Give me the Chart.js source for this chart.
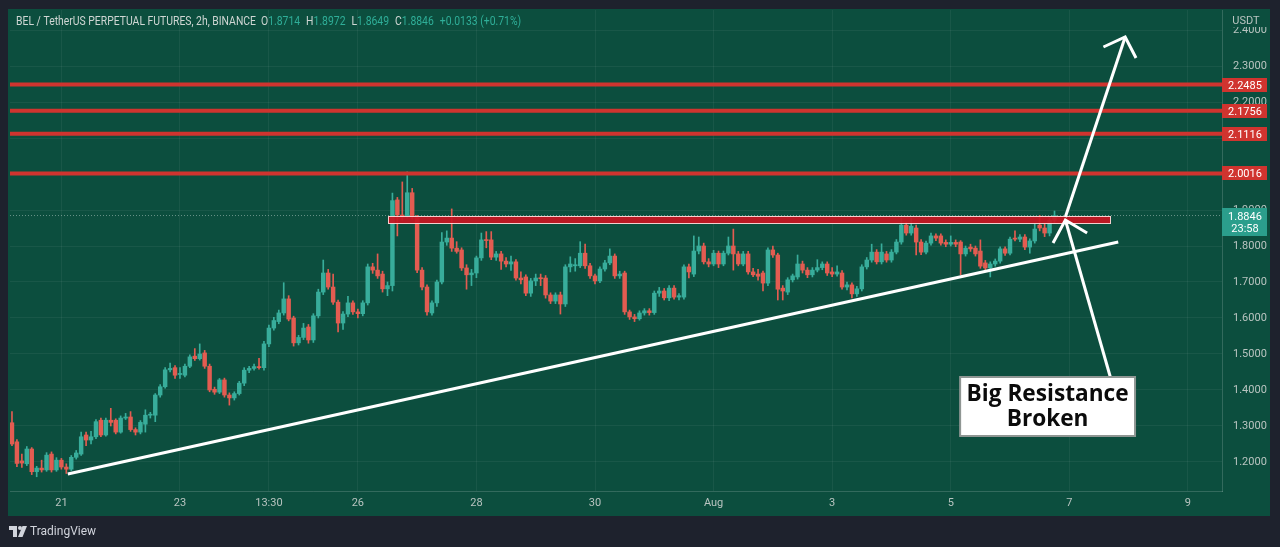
<!DOCTYPE html>
<html>
<head>
<meta charset="utf-8">
<script src="https://cdn.jsdelivr.net/npm/chart.js@4.4.1/dist/chart.umd.min.js"></script>
<style>
html, body { margin: 0; padding: 0; background: #1e222d; overflow: hidden; }
canvas { display: block; }
</style>
</head>
<body>
<canvas id="chart" width="1280" height="547"></canvas>
<script>
// BEL/USDT perpetual, 2h candles, from Jul 20 04:00 to Aug 6
const opens = [
  1.309,1.256,1.203,1.195,1.236,1.173,1.183,1.178,1.222,1.178,
  1.205,1.186,1.180,1.213,1.222,1.275,1.261,1.270,1.316,1.275,
  1.316,1.316,1.283,1.322,1.325,1.290,1.283,1.305,1.330,1.330,
  1.386,1.409,1.456,1.462,1.443,1.441,1.466,1.494,1.487,1.503,
  1.466,1.402,1.394,1.428,1.386,1.378,1.390,1.419,1.455,1.460,
  1.465,1.462,1.528,1.572,1.590,1.614,1.653,1.600,1.531,1.546,
  1.575,1.539,1.606,1.672,1.725,1.686,1.644,1.586,1.611,1.642,
  1.617,1.612,1.642,1.742,1.733,1.722,1.681,1.690,1.928,1.886,
  1.883,1.948,1.878,1.733,1.686,1.614,1.642,1.700,1.811,1.822,
  1.794,1.789,1.739,1.720,1.725,1.767,1.817,1.817,1.769,1.778,
  1.758,1.750,1.756,1.711,1.714,1.669,1.703,1.711,1.711,1.664,
  1.647,1.664,1.639,1.742,1.745,1.745,1.780,1.745,1.717,1.703,
  1.736,1.753,1.772,1.717,1.725,1.617,1.603,1.598,1.614,1.620,
  1.615,1.669,1.675,1.656,1.683,1.658,1.658,1.742,1.722,1.786,
  1.800,1.756,1.750,1.780,1.750,1.780,1.800,1.778,1.750,1.778,
  1.728,1.722,1.725,1.697,1.789,1.775,1.683,1.672,1.706,1.714,
  1.750,1.733,1.720,1.733,1.740,1.750,1.728,1.722,1.725,1.686,
  1.692,1.667,1.681,1.742,1.761,1.783,1.756,1.778,1.761,1.783,
  1.811,1.858,1.836,1.850,1.811,1.783,1.808,1.828,1.828,1.810,
  1.805,1.810,1.811,1.778,1.797,1.794,1.786,1.753,1.739,1.750,
  1.758,1.792,1.780,1.822,1.819,1.825,1.797,1.814,1.858,1.850,
  1.836,1.8714
];
const highs = [
  1.340,1.262,1.222,1.243,1.240,1.188,1.205,1.226,1.228,1.212,
  1.210,1.195,1.218,1.232,1.283,1.283,1.285,1.318,1.322,1.322,
  1.349,1.320,1.328,1.335,1.340,1.295,1.315,1.345,1.338,1.390,
  1.415,1.462,1.475,1.468,1.462,1.472,1.498,1.515,1.528,1.510,
  1.472,1.408,1.432,1.433,1.392,1.395,1.424,1.462,1.466,1.472,
  1.488,1.535,1.580,1.602,1.622,1.698,1.662,1.605,1.552,1.585,
  1.582,1.612,1.680,1.761,1.735,1.722,1.650,1.618,1.660,1.648,
  1.625,1.648,1.750,1.752,1.778,1.730,1.700,1.947,1.935,1.978,
  2.006,1.960,1.885,1.740,1.692,1.648,1.705,1.837,1.842,1.903,
  1.812,1.795,1.748,1.735,1.772,1.836,1.840,1.840,1.785,1.785,
  1.768,1.772,1.762,1.728,1.720,1.710,1.722,1.722,1.718,1.670,
  1.670,1.672,1.748,1.770,1.765,1.812,1.805,1.752,1.722,1.742,
  1.760,1.792,1.778,1.730,1.730,1.622,1.610,1.620,1.626,1.626,
  1.675,1.685,1.682,1.690,1.690,1.668,1.748,1.750,1.828,1.825,
  1.808,1.765,1.788,1.786,1.786,1.825,1.847,1.785,1.785,1.785,
  1.738,1.735,1.730,1.795,1.800,1.780,1.690,1.712,1.722,1.775,
  1.758,1.740,1.740,1.762,1.756,1.756,1.740,1.745,1.732,1.700,
  1.698,1.688,1.748,1.768,1.805,1.790,1.806,1.785,1.790,1.818,
  1.878,1.866,1.878,1.858,1.818,1.814,1.836,1.834,1.834,1.817,
  1.828,1.817,1.815,1.800,1.805,1.800,1.817,1.760,1.756,1.764,
  1.798,1.798,1.825,1.842,1.832,1.832,1.820,1.862,1.885,1.862,
  1.878,1.8972
];
const lows = [
  1.245,1.187,1.185,1.190,1.165,1.159,1.172,1.174,1.172,1.174,
  1.180,1.168,1.176,1.208,1.218,1.245,1.250,1.265,1.270,1.272,
  1.300,1.278,1.280,1.318,1.285,1.275,1.278,1.283,1.322,1.312,
  1.380,1.405,1.450,1.432,1.432,1.436,1.462,1.482,1.483,1.460,
  1.395,1.388,1.390,1.380,1.358,1.372,1.386,1.412,1.448,1.455,
  1.458,1.455,1.520,1.566,1.584,1.608,1.592,1.522,1.525,1.540,
  1.530,1.532,1.600,1.665,1.680,1.638,1.561,1.568,1.604,1.610,
  1.600,1.606,1.636,1.724,1.710,1.672,1.662,1.675,1.828,1.872,
  1.878,1.875,1.726,1.678,1.608,1.608,1.632,1.695,1.802,1.785,
  1.780,1.732,1.680,1.690,1.712,1.760,1.795,1.762,1.760,1.735,
  1.742,1.732,1.705,1.695,1.662,1.660,1.690,1.690,1.655,1.640,
  1.640,1.611,1.632,1.728,1.730,1.740,1.738,1.710,1.695,1.698,
  1.730,1.748,1.710,1.710,1.610,1.596,1.590,1.594,1.608,1.608,
  1.610,1.660,1.650,1.648,1.652,1.650,1.652,1.711,1.715,1.778,
  1.750,1.742,1.745,1.740,1.745,1.775,1.733,1.745,1.745,1.722,
  1.715,1.705,1.675,1.690,1.768,1.650,1.650,1.665,1.700,1.708,
  1.725,1.712,1.714,1.728,1.734,1.718,1.715,1.716,1.680,1.678,
  1.656,1.660,1.675,1.736,1.755,1.750,1.750,1.755,1.755,1.778,
  1.805,1.830,1.830,1.775,1.776,1.778,1.802,1.815,1.802,1.798,
  1.800,1.798,1.720,1.772,1.785,1.772,1.738,1.732,1.714,1.744,
  1.752,1.774,1.775,1.814,1.812,1.790,1.780,1.808,1.842,1.826,
  1.828,1.8649
];
const closes = [
  1.250,1.196,1.197,1.236,1.173,1.183,1.178,1.219,1.178,1.205,
  1.186,1.180,1.213,1.225,1.270,1.261,1.270,1.312,1.275,1.316,
  1.310,1.283,1.322,1.325,1.290,1.283,1.310,1.330,1.332,1.386,
  1.409,1.456,1.460,1.441,1.446,1.466,1.492,1.487,1.500,1.466,
  1.400,1.394,1.428,1.386,1.378,1.390,1.419,1.455,1.460,1.465,
  1.462,1.528,1.572,1.593,1.614,1.653,1.597,1.531,1.546,1.572,
  1.539,1.606,1.672,1.725,1.686,1.644,1.586,1.611,1.642,1.617,
  1.612,1.642,1.742,1.733,1.717,1.681,1.690,1.926,1.886,1.880,
  1.948,1.883,1.733,1.686,1.617,1.642,1.700,1.811,1.822,1.794,
  1.785,1.739,1.720,1.725,1.767,1.817,1.815,1.769,1.778,1.758,
  1.750,1.756,1.711,1.706,1.669,1.703,1.711,1.709,1.664,1.647,
  1.664,1.639,1.742,1.750,1.748,1.780,1.745,1.717,1.703,1.736,
  1.753,1.772,1.717,1.722,1.617,1.603,1.598,1.614,1.620,1.615,
  1.669,1.675,1.656,1.683,1.658,1.662,1.742,1.728,1.786,1.800,
  1.756,1.750,1.780,1.750,1.780,1.800,1.778,1.750,1.778,1.728,
  1.720,1.716,1.697,1.789,1.775,1.680,1.675,1.706,1.717,1.750,
  1.733,1.720,1.733,1.740,1.750,1.725,1.722,1.728,1.686,1.692,
  1.667,1.681,1.742,1.761,1.783,1.756,1.783,1.761,1.783,1.811,
  1.858,1.836,1.855,1.811,1.783,1.808,1.828,1.822,1.808,1.805,
  1.810,1.805,1.778,1.794,1.792,1.778,1.744,1.739,1.750,1.758,
  1.792,1.780,1.819,1.819,1.825,1.797,1.814,1.847,1.850,1.836,
  1.8714,1.8846
];

// x axis: bar index, one day = 12 bars, "21" = Jul 21 00:00
const xTickPos = [10, 34, 52, 70, 94, 118, 142, 166, 190, 214, 238];
const xTickLabels = ['21', '23', '13:30', '26', '28', '30', 'Aug', '3', '5', '7', '9'];
const yTicks = [1.2, 1.3, 1.4, 1.5, 1.6, 1.7, 1.8, 1.9, 2.0, 2.1, 2.2, 2.3, 2.4];

// horizontal resistance levels and the broken zone
const levels = [2.2485, 2.1756, 2.1116, 2.0016];
const resistZone = [1.8639, 1.8833];
const countdown = '23:58';
const changeText = '+0.0133 (+0.71%)';

// drawings, in (bar index, price)
const trendLine = [{x: 11.3, y: 1.1667}, {x: 223.9, y: 1.811}];
const arrowUp = [{x: 213.2, y: 1.8806}, {x: 225.3, y: 2.3806}];
const arrowUpHead = [{x: 220.9, y: 2.3528}, {x: 225.3, y: 2.3806}, {x: 227.5, y: 2.3222}];
const arrowNote = [{x: 222.3, y: 1.4361}, {x: 213.2, y: 1.8722}];
const arrowNoteHead = [{x: 210.7, y: 1.8083}, {x: 213.2, y: 1.8722}, {x: 217.6, y: 1.8361}];
const zoneBars = [76.1, 222.3];
const noteBox = {x0: 191.9, x1: 227.3, top: 1.4361, bottom: 1.2722};
const noteLines = ['Big Resistance', 'Broken'];

const X_MIN = -0.4, X_MAX = 244.9;
const Y_MIN = 1.1194, Y_MAX = 2.4556;

const PANE = '#0c4e3e';
const UP = '#38ad9b';
const DOWN = '#e35c51';
const LEVEL_RED = '#d0342f';
const AXIS_TEXT = '#b9c4c0';
const GRID = 'rgba(255,255,255,0.055)';

const last = closes.length - 1;
const candleColors = opens.map((o, i) => closes[i] >= o ? UP : DOWN);
const bodies = opens.map((o, i) => ({x: i, y: [o, closes[i]]}));
const wicks = opens.map((o, i) => ({x: i, y: [lows[i], highs[i]]}));

function lineSet(data, color, width, order, dash) {
  return {
    type: 'line', data: data, borderColor: color, borderWidth: width,
    borderDash: dash || [], pointRadius: 0, fill: false, tension: 0, order: order,
    borderJoinStyle: 'miter'
  };
}

const datasets = [
  lineSet([{x: X_MIN, y: closes[last]}, {x: X_MAX, y: closes[last]}], 'rgba(220,230,226,0.45)', 1, 4, [1, 2]),
  {label: 'wicks', data: wicks, backgroundColor: candleColors, barThickness: 1, grouped: false, order: 3},
  {label: 'bodies', data: bodies, backgroundColor: candleColors, barThickness: 3.8, minBarLength: 1, grouped: false, order: 2},
];
levels.forEach(v => datasets.push(lineSet([{x: X_MIN, y: v}, {x: X_MAX, y: v}], LEVEL_RED, 4, 1)));
datasets.push(lineSet(trendLine, '#ffffff', 3, 0));
datasets.push(lineSet(arrowUp, '#ffffff', 3, 0));
datasets.push(lineSet(arrowUpHead, '#ffffff', 3, 0));
datasets.push(lineSet(arrowNote, '#ffffff', 3, 0));
datasets.push(lineSet(arrowNoteHead, '#ffffff', 3, 0));
const BODY_DS = 2;

function fitText(c, text, x, y, width) {
  const w = c.measureText(text).width;
  const s = width / w;
  c.save();
  c.translate(x, y);
  c.scale(s, 1);
  c.fillText(text, 0, 0);
  c.restore();
  return w * s;
}

// drop the half-label padding chart.js adds to the ends of each axis
function noEndPadding(s) {
  s.paddingTop = 0;
  s.paddingBottom = 0;
  s.paddingLeft = 0;
  s.paddingRight = 0;
}

const overlay = {
  id: 'overlay',
  beforeDraw(chart) {
    const c = chart.ctx;
    c.save();
    c.fillStyle = '#1e222d';
    c.fillRect(0, 0, chart.width, chart.height);
    c.fillStyle = PANE;
    c.fillRect(8, 9, 1262, 507);
    c.restore();
  },
  afterDatasetDraw(chart, args) {
    if (args.index !== BODY_DS) return;
    const xs = chart.scales.x, ys = chart.scales.y, c = chart.ctx;
    const x0 = xs.getPixelForValue(zoneBars[0]), x1 = xs.getPixelForValue(zoneBars[1]);
    const y0 = ys.getPixelForValue(resistZone[1]), y1 = ys.getPixelForValue(resistZone[0]);
    c.save();
    c.fillStyle = 'rgba(200,22,34,0.93)';
    c.fillRect(x0, y0, x1 - x0, y1 - y0);
    c.strokeStyle = 'rgba(255,214,214,0.95)';
    c.lineWidth = 1;
    c.strokeRect(Math.round(x0) + 0.5, Math.round(y0) + 0.5, Math.round(x1 - x0), Math.round(y1 - y0));
    c.restore();
  },
  afterDraw(chart) {
    const c = chart.ctx, xs = chart.scales.x, ys = chart.scales.y;
    const right = chart.chartArea.right;
    c.save();

    // price tags on the right axis
    c.font = '11px Roboto';
    c.textAlign = 'center';
    c.textBaseline = 'middle';
    levels.forEach(v => {
      const py = Math.round(ys.getPixelForValue(v));
      c.fillStyle = LEVEL_RED;
      c.fillRect(right, py - 7, 45, 14);
      c.fillStyle = '#ffffff';
      c.fillText(v.toFixed(4), right + 23, py + 1);
    });
    const lp = Math.round(ys.getPixelForValue(closes[last]));
    c.fillStyle = '#2b9e8c';
    c.fillRect(right, lp - 8, 45, 28);
    c.fillStyle = '#ffffff';
    c.fillText(closes[last].toFixed(4), right + 23, lp + 1);
    c.fillText(countdown, right + 23, lp + 13);
    c.fillStyle = PANE;
    c.fillRect(right + 1, 13, 46, 14);
    c.fillStyle = AXIS_TEXT;
    c.fillText('USDT', right + 24, 21);

    // header line
    c.textAlign = 'left';
    c.font = '12px Roboto';
    const title = 'BEL / TetherUS PERPETUAL FUTURES, 2h, BINANCE';
    const s = 240 / c.measureText(title).width;
    const parts = [
      [title, '#cfd6d3', 5],
      ['O', '#cfd6d3', 0], [opens[last].toFixed(4), '#2fae98', 6],
      ['H', '#cfd6d3', 0], [highs[last].toFixed(4), '#2fae98', 6],
      ['L', '#cfd6d3', 0], [lows[last].toFixed(4), '#2fae98', 6],
      ['C', '#cfd6d3', 0], [closes[last].toFixed(4), '#2fae98', 6],
      [changeText, '#2fae98', 0]
    ];
    let hx = 16;
    parts.forEach(p => {
      c.fillStyle = p[1];
      const w = c.measureText(p[0]).width * s;
      fitText(c, p[0], hx, 22, w);
      hx += w + p[2];
    });

    // annotation box
    const bx0 = xs.getPixelForValue(noteBox.x0), bx1 = xs.getPixelForValue(noteBox.x1);
    const by0 = ys.getPixelForValue(noteBox.top), by1 = ys.getPixelForValue(noteBox.bottom);
    c.fillStyle = '#ffffff';
    c.fillRect(bx0, by0, bx1 - bx0, by1 - by0);
    c.strokeStyle = '#8f9693';
    c.lineWidth = 2;
    c.strokeRect(bx0, by0, bx1 - bx0, by1 - by0);
    c.fillStyle = '#0b0b0b';
    c.font = 'bold 24px "Open Sans"';
    c.textAlign = 'left';
    const cx = (bx0 + bx1) / 2;
    const w1 = Math.min(c.measureText(noteLines[0]).width, 162);
    fitText(c, noteLines[0], cx - w1 / 2, by0 + 17, w1);
    const w2 = c.measureText(noteLines[1]).width * (w1 / c.measureText(noteLines[0]).width);
    fitText(c, noteLines[1], cx - w2 / 2, by0 + 42, w2);

    // TradingView mark
    c.fillStyle = '#d1d4dc';
    c.fillRect(9, 526, 8, 4);
    c.fillRect(13, 526, 4, 11);
    c.beginPath();
    c.arc(20, 528, 2, 0, Math.PI * 2);
    c.fill();
    c.beginPath();
    c.moveTo(22.5, 526); c.lineTo(27, 526); c.lineTo(22.5, 537); c.lineTo(18, 537);
    c.closePath();
    c.fill();
    c.font = '12px Roboto';
    c.textBaseline = 'middle';
    c.fillText('TradingView', 30, 532);
    c.restore();
  }
};

new Chart(document.getElementById('chart'), {
  type: 'bar',
  data: {datasets: datasets},
  plugins: [overlay],
  options: {
    responsive: false,
    animation: false,
    events: [],
    layout: {padding: {left: 10, top: 10, right: 10, bottom: 31}},
    plugins: {legend: {display: false}, tooltip: {enabled: false}},
    scales: {
      x: {
        type: 'linear', min: X_MIN, max: X_MAX, offset: false,
        afterBuildTicks: s => { s.ticks = xTickPos.map(v => ({value: v})); },
        afterFit: s => { s.height = 25; noEndPadding(s); },
        ticks: {
          autoSkip: false, maxRotation: 0, padding: 6, color: AXIS_TEXT,
          font: {family: 'Roboto', size: 11},
          callback: (v, i) => xTickLabels[i]
        },
        grid: {color: GRID, drawTicks: false, offset: false},
        border: {color: 'rgba(255,255,255,0.16)'}
      },
      y: {
        position: 'right', min: Y_MIN, max: Y_MAX,
        afterBuildTicks: s => { s.ticks = yTicks.map(v => ({value: v})); },
        afterFit: s => { s.width = 48; noEndPadding(s); },
        ticks: {
          padding: 11, color: AXIS_TEXT, font: {family: 'Roboto', size: 11},
          callback: v => Number(v).toFixed(4)
        },
        grid: {color: GRID, drawTicks: false},
        border: {color: 'rgba(255,255,255,0.16)'}
      }
    }
  }
});
</script>
</body>
</html>
